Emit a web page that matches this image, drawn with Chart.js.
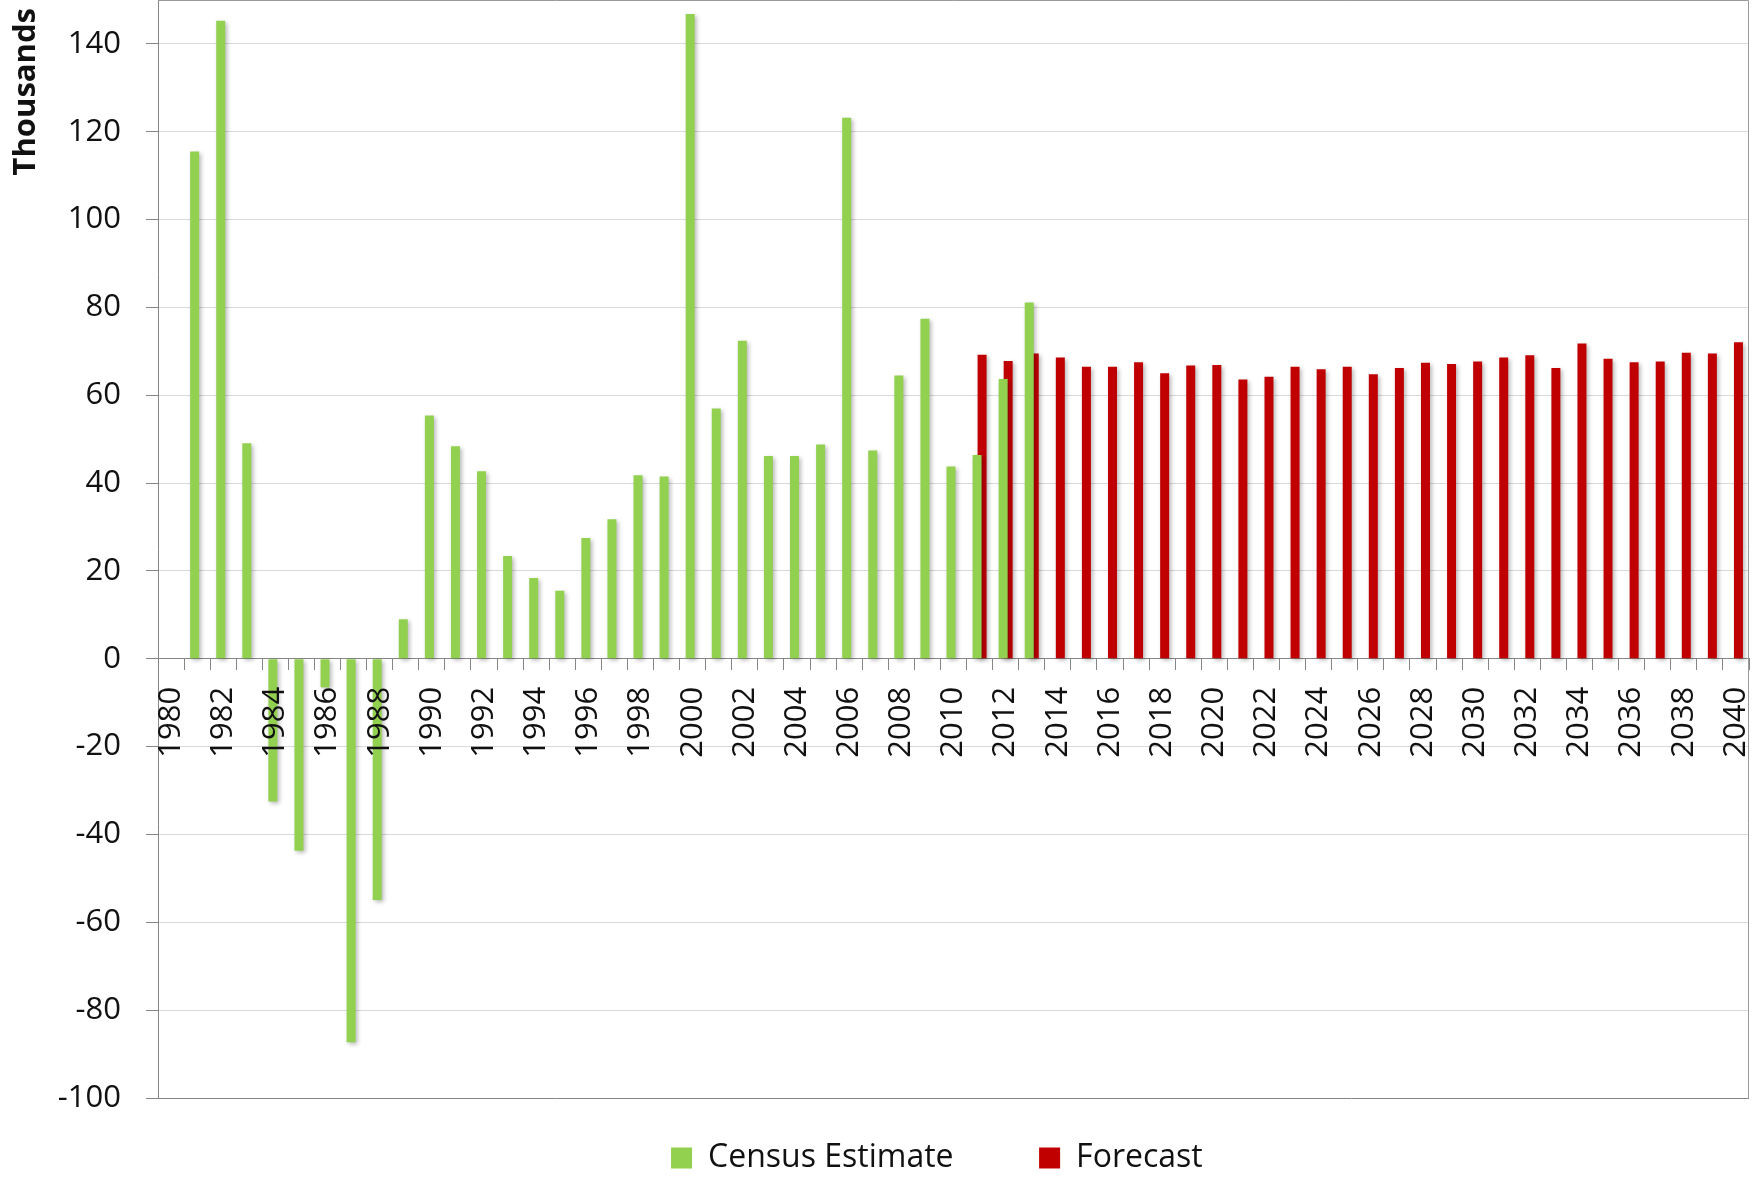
<!DOCTYPE html>
<html>
<head>
<meta charset="utf-8">
<title>Annual population change, 1980–2040</title>
<script src="https://cdn.jsdelivr.net/npm/chart.js@4.4.1/dist/chart.umd.min.js"></script>
<style>
  html, body { margin: 0; padding: 0; background: #ffffff; }
  #wrap { width: 1764px; height: 1177px; }
</style>
</head>
<body>
<div id="wrap"><canvas id="chart" width="1764" height="1177"></canvas></div>
<script>
// Year categories on the x axis
const years = [
  '1980','1981','1982','1983','1984','1985','1986','1987','1988','1989',
  '1990','1991','1992','1993','1994','1995','1996','1997','1998','1999',
  '2000','2001','2002','2003','2004','2005','2006','2007','2008','2009',
  '2010','2011','2012','2013','2014','2015','2016','2017','2018','2019',
  '2020','2021','2022','2023','2024','2025','2026','2027','2028','2029',
  '2030','2031','2032','2033','2034','2035','2036','2037','2038','2039',
  '2040'
];

// Census estimates, thousands, 1980 through 2013
const censusEstimate = [
  null, 115.5, 145.3, 49.1, -32.5, -43.7, -6.5, -87.3, -54.9, 9.0,
  55.4, 48.4, 42.7, 23.4, 18.4, 15.5, 27.5, 31.8, 41.8, 41.5,
  146.8, 57.0, 72.4, 46.2, 46.2, 48.8, 123.2, 47.4, 64.5, 77.4,
  43.8, 46.4, 63.7, 81.1
];

// Forecast, thousands, 2011 through 2040
const forecastFirstYear = '2011';
const forecast = [
  69.2, 67.8, 69.5, 68.6, 66.5, 66.5, 67.5, 65.0, 66.8,
  66.9, 63.6, 64.2, 66.5, 65.9, 66.5, 64.8, 66.2, 67.4, 67.1,
  67.7, 68.6, 69.1, 66.2, 71.8, 68.3, 67.5, 67.7, 69.7, 69.5,
  72.1
];

// Y axis range and step, thousands
const yMin = -100;
const yMax = 150;
const yStep = 20;

// Align both series to the full list of years
const censusData = years.map((y, i) => i < censusEstimate.length ? censusEstimate[i] : null);
const forecastOffset = years.indexOf(forecastFirstYear);
const forecastData = years.map((y, i) => i >= forecastOffset ? forecast[i - forecastOffset] : null);

const FONT = 'Open Sans';
const AXIS_GREY = '#868686';
const GRID_GREY = '#d9d9d9';
const TEXT = '#111111';

// Width of the y axis box (tick labels and title), left of the plot area
const Y_AXIS_WIDTH = 158;

// Thin frame on the top and right of the plot area
const plotFrame = {
  id: 'plotFrame',
  beforeDatasetsDraw(chart) {
    const { ctx, chartArea: a } = chart;
    ctx.save();
    ctx.strokeStyle = '#9a9a9a';
    ctx.lineWidth = 1;
    ctx.beginPath();
    ctx.moveTo(a.left, a.top + 0.5);
    ctx.lineTo(a.right - 0.5, a.top + 0.5);
    ctx.lineTo(a.right - 0.5, a.bottom);
    ctx.stroke();
    ctx.restore();
  }
};

// Soft drop shadow under the bars
const barShadow = {
  id: 'barShadow',
  beforeDatasetsDraw(chart) {
    const ctx = chart.ctx;
    ctx.save();
    ctx.shadowColor = 'rgba(0,0,0,0.28)';
    ctx.shadowBlur = 4;
    ctx.shadowOffsetX = 2;
    ctx.shadowOffsetY = 2;
  },
  afterDatasetsDraw(chart) {
    chart.ctx.restore();
  }
};

new Chart(document.getElementById('chart'), {
  type: 'bar',
  data: {
    labels: years,
    datasets: [
      {
        label: 'Census Estimate',
        data: censusData,
        backgroundColor: '#92d050',
        borderWidth: 0,
        barPercentage: 1.8,
        categoryPercentage: 0.383
      },
      {
        label: 'Forecast',
        data: forecastData,
        backgroundColor: '#c00000',
        borderWidth: 0,
        barPercentage: 1.8,
        categoryPercentage: 0.383
      }
    ]
  },
  options: {
    responsive: false,
    devicePixelRatio: 1,
    animation: false,
    layout: { padding: { left: 0, right: 15, top: 0, bottom: -7 } },
    scales: {
      x: {
        position: { y: 0 },
        offset: true,
        grid: {
          offset: true,
          drawOnChartArea: false,
          drawTicks: true,
          tickLength: 11,
          tickColor: AXIS_GREY
        },
        border: { color: AXIS_GREY, width: 1 },
        ticks: {
          z: 1,
          autoSkip: false,
          minRotation: 90,
          maxRotation: 90,
          padding: 17,
          color: TEXT,
          font: { family: FONT, size: 31 },
          callback: (value, index) => index % 2 === 0 ? years[index] : ''
        },
        afterFit(scale) {
          scale.height = 0;
          scale.paddingLeft = 0;
          scale.paddingRight = 0;
        }
      },
      y: {
        min: yMin,
        max: yMax,
        ticks: {
          stepSize: yStep,
          includeBounds: false,
          padding: 25,
          color: TEXT,
          font: { family: FONT, size: 31 }
        },
        grid: {
          color: (ctx) => (ctx.tick && ctx.tick.value === yMin) ? AXIS_GREY : GRID_GREY,
          tickColor: AXIS_GREY,
          tickLength: 12,
          lineWidth: 1
        },
        border: { color: AXIS_GREY, width: 1 },
        title: {
          display: true,
          text: 'Thousands ',
          align: 'end',
          color: TEXT,
          font: { family: FONT, size: 31, weight: 'bold' },
          padding: { top: 8, bottom: 0 }
        },
        afterFit(scale) {
          scale.width = Y_AXIS_WIDTH;
          scale.paddingTop = 0;
          scale.paddingBottom = 0;
        }
      }
    },
    plugins: {
      legend: {
        position: 'bottom',
        fullSize: false,
        labels: {
          boxWidth: 21,
          boxHeight: 21,
          padding: 44,
          color: TEXT,
          font: { family: FONT, size: 32 },
          generateLabels(chart) {
            const items = Chart.defaults.plugins.legend.labels.generateLabels(chart);
            // wider gap between the two legend entries
            items.forEach((item, i) => {
              item.text = item.text + (i < items.length - 1 ? '     ' : '    ');
            });
            return items;
          }
        }
      },
      tooltip: { enabled: false }
    }
  },
  plugins: [plotFrame, barShadow]
});
</script>
</body>
</html>
